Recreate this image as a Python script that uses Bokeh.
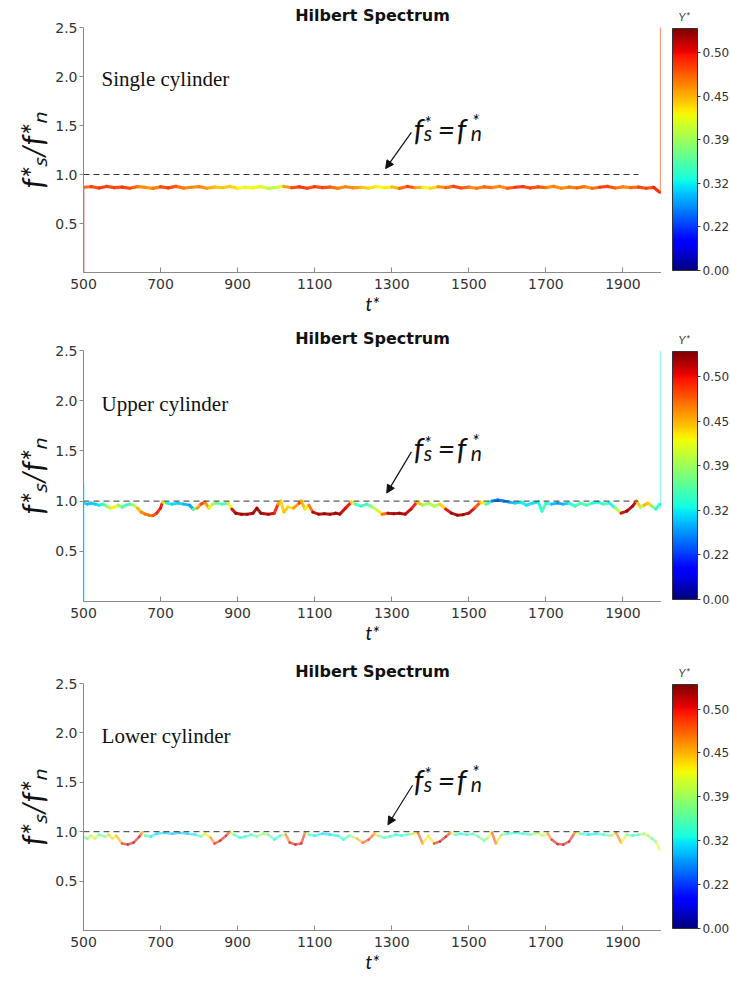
import numpy as np
from bokeh.plotting import figure
from bokeh.layouts import column, row
from bokeh.models import (ColumnDataSource, LinearColorMapper, ColorBar, FixedTicker,
                          Label, Arrow, NormalHead, Range1d)
from bokeh.embed import file_html
from bokeh.resources import INLINE

# ---------------- data ----------------
XTICKS = [500, 700, 900, 1100, 1300, 1500, 1700, 1900]
YTICKS = [0.5, 1.0, 1.5, 2.0, 2.5]
YTICK_LABELS = ["0.5", "1.0", "1.5", "2.0", "2.5"]
CBAR_VALUES = [0.00, 0.22, 0.32, 0.39, 0.45, 0.50]
CBAR_LABELS = ["0.00", "0.22", "0.32", "0.39", "0.45", "0.50"]
REF_T = [500, 1940]
REF_F = [1.0, 1.0]
PANEL_NAMES = ["Single cylinder", "Upper cylinder", "Lower cylinder"]
TITLE = "Hilbert Spectrum"
X_LABEL = "t*"
Y_LABEL = "f*\u209b/f*\u2099"
CBAR_TITLE = "Y*"

single_t = [500, 520, 540, 560, 580, 600, 620, 640, 660, 680,
            700, 720, 740, 760, 780, 800, 820, 840, 860, 880,
            900, 920, 940, 960, 980, 1000, 1020, 1040, 1060, 1080,
            1100, 1120, 1140, 1160, 1180, 1200, 1220, 1240, 1260, 1280,
            1300, 1320, 1340, 1360, 1380, 1400, 1420, 1440, 1460, 1480,
            1500, 1520, 1540, 1560, 1580, 1600, 1620, 1640, 1660, 1680,
            1700, 1720, 1740, 1760, 1780, 1800, 1820, 1840, 1860, 1880,
            1900, 1920, 1940, 1960, 1980, 1995]
single_f = [0.870, 0.876, 0.862, 0.878, 0.866, 0.872, 0.860, 0.876, 0.868, 0.858,
            0.874, 0.864, 0.879, 0.861, 0.870, 0.876, 0.860, 0.872, 0.865, 0.878,
            0.860, 0.870, 0.864, 0.876, 0.858, 0.868, 0.878, 0.865, 0.874, 0.860,
            0.876, 0.866, 0.872, 0.858, 0.875, 0.864, 0.870, 0.860, 0.877, 0.866,
            0.872, 0.858, 0.878, 0.865, 0.870, 0.860, 0.875, 0.866, 0.879, 0.862,
            0.872, 0.860, 0.874, 0.867, 0.878, 0.860, 0.870, 0.876, 0.862, 0.874,
            0.866, 0.879, 0.860, 0.872, 0.864, 0.876, 0.860, 0.870, 0.878, 0.862,
            0.874, 0.866, 0.872, 0.860, 0.868, 0.820]
single_a = [0.47, 0.48, 0.49, 0.49, 0.48, 0.49, 0.49, 0.47, 0.46, 0.46,
            0.48, 0.49, 0.48, 0.47, 0.46, 0.47, 0.46, 0.45, 0.44, 0.45,
            0.43, 0.42, 0.43, 0.42, 0.41, 0.39, 0.44, 0.48, 0.49, 0.49,
            0.48, 0.49, 0.48, 0.47, 0.46, 0.47, 0.45, 0.44, 0.43, 0.42,
            0.44, 0.46, 0.49, 0.48, 0.43, 0.42, 0.46, 0.47, 0.48, 0.49,
            0.47, 0.46, 0.48, 0.47, 0.46, 0.47, 0.49, 0.49, 0.48, 0.49,
            0.47, 0.46, 0.47, 0.46, 0.48, 0.47, 0.46, 0.49, 0.49, 0.48,
            0.46, 0.47, 0.48, 0.49, 0.48, 0.51]

upper_t = [500, 510, 520, 530, 540, 550, 560, 570, 580, 590,
           600, 610, 620, 630, 640, 650, 660, 670, 680, 690,
           700, 705, 715, 730, 745, 760, 775, 785, 795, 805,
           815, 825, 835, 845, 860, 875, 885, 895, 910, 925,
           940, 950, 960, 980, 995, 1005, 1012, 1020, 1030, 1045,
           1060, 1065, 1075, 1085, 1095, 1110, 1125, 1140, 1155, 1165,
           1180, 1195, 1205, 1220, 1235, 1250, 1265, 1275, 1290, 1305,
           1320, 1335, 1350, 1365, 1380, 1395, 1410, 1425, 1440, 1455,
           1470, 1485, 1500, 1515, 1530, 1545, 1560, 1575, 1590, 1605,
           1620, 1635, 1650, 1665, 1680, 1690, 1700, 1715, 1730, 1745,
           1760, 1775, 1790, 1805, 1820, 1835, 1850, 1865, 1880, 1895,
           1910, 1925, 1935, 1945, 1955, 1965, 1975, 1985, 1995]
upper_f = [0.98, 0.97, 0.98, 0.97, 0.96, 0.97, 0.95, 0.93, 0.94, 0.96,
           0.94, 0.96, 0.97, 0.96, 0.93, 0.89, 0.87, 0.86, 0.855, 0.88,
           0.93, 0.99, 0.98, 0.97, 0.98, 0.97, 0.96, 0.92, 0.93, 0.97,
           0.99, 0.93, 0.97, 0.98, 0.97, 0.98, 0.92, 0.88, 0.87, 0.87,
           0.88, 0.93, 0.88, 0.87, 0.88, 0.97, 1.00, 0.89, 0.94, 0.93,
           0.98, 1.00, 0.92, 0.96, 0.89, 0.87, 0.875, 0.87, 0.88, 0.87,
           0.93, 0.99, 0.97, 0.95, 0.97, 0.94, 0.90, 0.87, 0.88, 0.875,
           0.88, 0.87, 0.92, 0.99, 0.96, 0.98, 0.95, 0.97, 0.92, 0.88,
           0.86, 0.865, 0.88, 0.93, 0.99, 0.97, 1.00, 1.01, 1.00, 0.99,
           0.98, 0.99, 0.96, 0.98, 0.99, 0.90, 0.98, 0.97, 0.98, 0.97,
           0.98, 0.95, 0.98, 0.96, 0.98, 0.99, 0.97, 0.98, 0.93, 0.88,
           0.90, 0.95, 1.00, 0.94, 0.96, 0.98, 0.95, 0.92, 0.97]
upper_a = [0.31, 0.30, 0.29, 0.30, 0.31, 0.33, 0.36, 0.42, 0.44, 0.40,
           0.36, 0.35, 0.34, 0.37, 0.44, 0.46, 0.47, 0.47, 0.47, 0.49,
           0.50, 0.50, 0.33, 0.31, 0.30, 0.30, 0.27, 0.28, 0.44, 0.48,
           0.49, 0.43, 0.40, 0.37, 0.35, 0.34, 0.50, 0.52, 0.52, 0.52,
           0.52, 0.52, 0.52, 0.52, 0.51, 0.48, 0.42, 0.46, 0.43, 0.44,
           0.48, 0.49, 0.41, 0.43, 0.51, 0.52, 0.52, 0.52, 0.52, 0.52,
           0.51, 0.49, 0.36, 0.33, 0.34, 0.38, 0.42, 0.44, 0.51, 0.52,
           0.52, 0.52, 0.51, 0.49, 0.40, 0.38, 0.41, 0.39, 0.49, 0.52,
           0.52, 0.52, 0.52, 0.50, 0.46, 0.40, 0.27, 0.24, 0.25, 0.27,
           0.30, 0.31, 0.33, 0.30, 0.32, 0.33, 0.36, 0.30, 0.27, 0.28,
           0.31, 0.35, 0.34, 0.36, 0.33, 0.32, 0.34, 0.35, 0.30, 0.50,
           0.52, 0.52, 0.51, 0.38, 0.42, 0.48, 0.40, 0.34, 0.32]

lower_t = [500, 510, 520, 530, 540, 555, 565, 575, 585, 600,
           615, 630, 645, 652, 660, 675, 690, 710, 730, 750,
           770, 790, 805, 815, 830, 840, 855, 870, 880, 890,
           905, 920, 935, 950, 965, 980, 995, 1010, 1025, 1035,
           1050, 1065, 1075, 1085, 1100, 1120, 1140, 1160, 1175, 1190,
           1210, 1225, 1240, 1255, 1265, 1280, 1295, 1310, 1325, 1340,
           1355, 1368, 1380, 1395, 1410, 1425, 1440, 1452, 1465, 1480,
           1495, 1510, 1525, 1540, 1550, 1560, 1570, 1585, 1600, 1620,
           1640, 1660, 1680, 1690, 1705, 1715, 1730, 1745, 1760, 1775,
           1790, 1810, 1830, 1850, 1870, 1882, 1895, 1910, 1925, 1940,
           1955, 1965, 1975, 1985, 1995]
lower_f = [0.95, 0.93, 0.96, 0.93, 0.97, 0.95, 0.97, 0.93, 0.96, 0.88,
           0.87, 0.89, 0.95, 0.99, 0.96, 0.95, 0.98, 0.99, 0.98, 0.99,
           0.98, 0.97, 0.95, 0.98, 0.94, 0.88, 0.91, 0.96, 1.00, 0.97,
           0.94, 0.95, 0.97, 0.95, 0.98, 0.97, 0.92, 0.96, 0.97, 0.89,
           0.87, 0.88, 0.99, 0.97, 0.96, 0.98, 0.97, 0.96, 0.92, 0.96,
           0.93, 0.89, 0.92, 0.98, 0.96, 0.94, 0.95, 0.97, 0.96, 0.97,
           0.98, 0.99, 0.88, 0.96, 0.88, 0.90, 0.95, 0.99, 0.97, 0.98,
           0.97, 0.98, 0.95, 0.91, 0.94, 0.99, 0.88, 0.97, 0.98, 0.99,
           0.98, 0.97, 0.99, 0.96, 0.98, 0.92, 0.875, 0.87, 0.90, 0.99,
           0.98, 0.97, 0.98, 0.97, 0.96, 0.99, 0.89, 0.97, 0.96, 0.97,
           0.98, 0.96, 0.93, 0.90, 0.82]
lower_a = [0.33, 0.36, 0.42, 0.44, 0.36, 0.34, 0.44, 0.45, 0.40, 0.51,
           0.51, 0.51, 0.51, 0.49, 0.34, 0.32, 0.31, 0.30, 0.29, 0.29,
           0.30, 0.31, 0.36, 0.42, 0.44, 0.50, 0.51, 0.51, 0.48, 0.34,
           0.32, 0.33, 0.34, 0.36, 0.40, 0.38, 0.33, 0.32, 0.44, 0.51,
           0.51, 0.51, 0.49, 0.33, 0.32, 0.31, 0.30, 0.33, 0.34, 0.34,
           0.43, 0.47, 0.50, 0.48, 0.38, 0.34, 0.35, 0.32, 0.33, 0.34,
           0.40, 0.47, 0.50, 0.36, 0.51, 0.51, 0.51, 0.49, 0.33, 0.32,
           0.34, 0.35, 0.37, 0.36, 0.38, 0.47, 0.50, 0.38, 0.34, 0.32,
           0.33, 0.34, 0.42, 0.38, 0.44, 0.50, 0.51, 0.51, 0.51, 0.49,
           0.34, 0.31, 0.32, 0.34, 0.36, 0.46, 0.49, 0.36, 0.34, 0.33,
           0.40, 0.41, 0.36, 0.34, 0.49]

# vertical edge traces (t, f_from, f_to, amplitude)
single_spike_t = [500, 1998]
single_spike_f0 = [0.0, 0.82]
single_spike_f1 = [0.87, 2.5]
single_spike_a = [0.51, 0.48]
upper_spike_t = [500, 1999]
upper_spike_f0 = [0.0, 0.92]
upper_spike_f1 = [1.17, 2.5]
upper_spike_a = [0.32, 0.32]

# ---------------- colour helpers ----------------
CBAR_POS = list(range(len(CBAR_VALUES)))
CBAR_TOP = 5.56


def jet(x):
    r = np.interp(x, [0, 0.35, 0.66, 0.89, 1], [0, 0, 1, 1, 0.5])
    g = np.interp(x, [0, 0.125, 0.375, 0.64, 0.91, 1], [0, 0, 1, 1, 0, 0])
    b = np.interp(x, [0, 0.11, 0.34, 0.65, 1], [0.5, 1, 1, 0, 0])
    return "#%02x%02x%02x" % (int(r * 255), int(g * 255), int(b * 255))


JET = [jet(i / 255) for i in range(256)]


def amp_pos(a):
    if a <= CBAR_VALUES[-1]:
        return float(np.interp(a, CBAR_VALUES, CBAR_POS))
    return 5 + (a - CBAR_VALUES[-1]) / (CBAR_VALUES[-1] - CBAR_VALUES[-2])


def amp_color(a):
    return jet(min(amp_pos(a) / CBAR_TOP, 1.0))


# ---------------- text helper ----------------
def add_pieces(p, x, y, bx, by, pieces, font="Lato", color="#111111"):
    for txt, size, dx, dy in pieces:
        p.add_layout(Label(x=x, y=y, x_offset=bx + dx, y_offset=by - dy, text=txt,
                           text_font=font, text_font_style="italic",
                           text_font_size="%dpx" % size, text_color=color,
                           text_align="left", text_baseline="alphabetic"))


EQ_PIECES = [("f", 30, 0, 0), ("*", 19, 10, -6), ("s", 21, 10, 4), ("=", 30, 24, 0),
             ("f", 30, 43, 0), ("*", 19, 58, -8), ("n", 21, 57, 4)]


def make_panel(idx, t, f, a, sp_t, sp_f0, sp_f1, sp_a, height, bottom,
               lw, alpha, eq_up, arrow_tail, arrow_tip):
    fh = height - 27 - bottom
    p = figure(width=661, height=height, output_backend="svg", toolbar_location=None,
               x_range=Range1d(500, 2000), y_range=Range1d(0, 2.5),
               min_border_left=83, min_border_right=0, min_border_top=27,
               min_border_bottom=bottom, title=TITLE)
    p.title.align = "center"
    p.title.text_font = "DejaVu Sans"
    p.title.text_font_style = "bold"
    p.title.text_font_size = "16px"
    p.title.standoff = 6
    p.title.text_color = "#111111"
    p.outline_line_color = None
    p.grid.visible = False
    p.background_fill_color = "white"
    p.border_fill_color = "white"

    p.xaxis.ticker = FixedTicker(ticks=XTICKS)
    p.yaxis.ticker = FixedTicker(ticks=YTICKS)
    p.yaxis.major_label_overrides = {v: s for v, s in zip(YTICKS, YTICK_LABELS)}
    for ax in (p.xaxis, p.yaxis):
        ax.axis_line_color = "#8a8a8a"
        ax.major_tick_line_color = "#8a8a8a"
        ax.minor_tick_line_color = None
        ax.major_label_text_font = "DejaVu Sans"
        ax.major_label_text_font_size = "14px"
        ax.major_label_text_color = "#333333"
        ax.axis_label_text_font = "Lato"
        ax.axis_label_text_font_style = "italic"
        ax.axis_label_text_color = "#111111"
    p.xaxis.major_tick_in = 5
    p.xaxis.major_tick_out = 0
    p.xaxis.major_label_standoff = 6
    p.xaxis.axis_label = X_LABEL
    p.xaxis.axis_label_text_font_size = "19px"
    p.xaxis.axis_label_standoff = 0
    p.yaxis.major_tick_in = 0
    p.yaxis.major_tick_out = 4
    p.yaxis.major_label_standoff = 2
    p.yaxis.axis_label = Y_LABEL
    p.yaxis.axis_label_text_font_size = "30px"
    p.yaxis.axis_label_standoff = 2

    # main coloured trace
    t = np.array(t, dtype=float)
    f = np.array(f, dtype=float)
    a = np.array(a, dtype=float)
    amid = (a[:-1] + a[1:]) / 2
    src = ColumnDataSource(dict(x0=t[:-1], y0=f[:-1], x1=t[1:], y1=f[1:],
                                c=[amp_color(v) for v in amid]))
    p.segment("x0", "y0", "x1", "y1", source=src, line_color="c", line_width=lw,
              line_alpha=alpha, line_cap="round")
    if len(sp_t):
        ssrc = ColumnDataSource(dict(x=sp_t, y0=sp_f0, y1=sp_f1,
                                     c=[amp_color(v) for v in sp_a]))
        p.segment("x", "y0", "x", "y1", source=ssrc, line_color="c", line_width=1.8,
                  line_alpha=0.55)

    # reference dashed line
    p.line(REF_T, REF_F, line_color="#333333", line_width=1, line_dash="6 4")

    # panel name
    p.add_layout(Label(x=547, y=1.97, text=PANEL_NAMES[idx], text_font="Liberation Serif",
                       text_font_size="21px", text_color="#111111",
                       text_baseline="alphabetic"))

    # annotation
    add_pieces(p, 1357, 1.0, 0, eq_up, EQ_PIECES)
    p.add_layout(Arrow(end=NormalHead(size=8, fill_color="#111111", line_color="#111111"),
                       x_start=arrow_tail[0], y_start=arrow_tail[1],
                       x_end=arrow_tip[0], y_end=arrow_tip[1],
                       line_color="#111111", line_width=1.2))

    # colour-bar panel (its own small canvas to the right; frame aligns with main frame)
    c = figure(width=69, height=height, output_backend="svg", toolbar_location=None,
               x_range=Range1d(0, 1), y_range=Range1d(0, 1),
               x_axis_type=None, y_axis_type=None, title=CBAR_TITLE,
               min_border_left=0, min_border_right=0, min_border_top=27,
               min_border_bottom=bottom)
    c.title.align = "left"
    c.title.offset = 17
    c.title.standoff = 7
    c.title.text_font = "Lato"
    c.title.text_font_style = "italic"
    c.title.text_font_size = "12px"
    c.title.text_color = "#444444"
    c.outline_line_color = None
    c.grid.visible = False
    c.background_fill_color = "white"
    c.border_fill_color = "white"
    mapper = LinearColorMapper(palette=JET, low=0, high=CBAR_TOP)
    cb = ColorBar(color_mapper=mapper, ticker=FixedTicker(ticks=CBAR_POS),
                  major_label_overrides={k: s for k, s in zip(CBAR_POS, CBAR_LABELS)},
                  width=25, height=fh - 3, location=(11, 2), padding=0, margin=0,
                  major_label_text_font="DejaVu Sans", major_label_text_font_size="12px",
                  major_label_text_color="#333333", label_standoff=2,
                  major_tick_in=0, major_tick_out=3, major_tick_line_color="#333333",
                  minor_tick_line_color=None, bar_line_color="#333333",
                  background_fill_alpha=0, border_line_color=None)
    c.add_layout(cb, "center")
    return row(p, c, spacing=0)


r1 = make_panel(0, single_t, single_f, single_a, single_spike_t, single_spike_f0,
                single_spike_f1, single_spike_a, 323, 51, 3.2, 0.9, 46,
                (1351, 1.43), (1284, 1.06))
r2 = make_panel(1, upper_t, upper_f, upper_a, upper_spike_t, upper_spike_f0,
                upper_spike_f1, upper_spike_a, 333, 55, 3.0, 0.9, 53,
                (1351, 1.49), (1287, 1.08))
r3 = make_panel(2, lower_t, lower_f, lower_a, [], [], [], [], 327, 53, 2.6, 0.55, 52,
                (1354, 1.47), (1290, 1.07))

layout = column(r1, r2, r3, spacing=0)
open("out.html", "w").write(file_html(layout, INLINE))
